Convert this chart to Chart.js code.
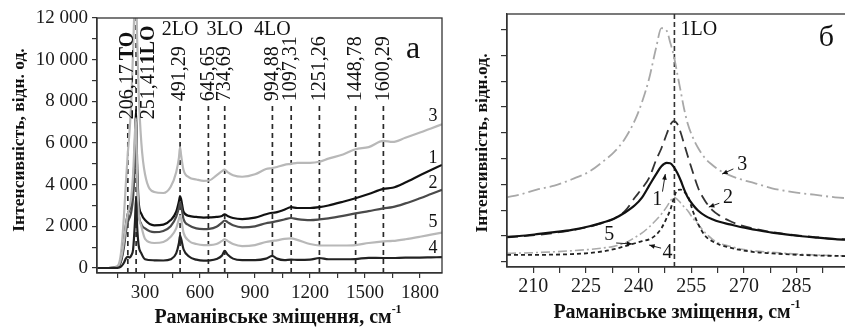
<!DOCTYPE html>
<html lang="uk">
<head>
<meta charset="UTF-8">
<title>Раманівські спектри</title>
<style>
  html, body { margin: 0; padding: 0; background: #fff; overflow: hidden; }
  #wrap { position: relative; width: 845px; height: 328px; overflow: hidden; }
  canvas { position: absolute; top: 0; }
  #spectraChart { left: 0; }
  #zoomChart { left: 460px; }
</style>
</head>
<body>
<div id="wrap">
  <canvas id="spectraChart" width="450" height="328"></canvas>
  <canvas id="zoomChart" width="395" height="328"></canvas>
</div>

<script src="https://cdn.jsdelivr.net/npm/chart.js"></script>
<script>
    // ---- panel "а": full spectra ----
    const shiftA = [40, 100, 150, 170, 185, 195, 206, 215, 225, 235, 245, 251, 257, 265, 280, 300, 350, 400, 440, 470,
        485, 491, 497, 510, 540, 580, 620, 650, 690, 720, 734, 750, 780, 830, 900, 960, 994, 1020, 1060, 1097,
        1130, 1200, 1251, 1300, 1380, 1448, 1520, 1600, 1650, 1720, 1800, 1860, 1920];
    const spec3 = [0, 0, 100, 800, 2500, 4000, 5500, 6500, 8000, 10500, 13000, 13500, 11000, 8500, 6000, 4500, 3650, 3600, 3900, 4600,
        5300, 5800, 5400, 4700, 4350, 4250, 4180, 4200, 4450, 4650, 4720, 4600, 4450, 4380, 4500, 4750, 4800, 4850, 4950, 5000,
        5050, 5050, 5100, 5250, 5450, 5700, 5800, 6100, 6050, 6250, 6500, 6700, 6900];
    const spec1 = [0, 0, 50, 400, 1200, 2000, 2600, 2800, 3100, 3800, 6000, 7600, 5000, 3200, 2600, 2300, 2050, 2080, 2300, 2700,
        3200, 3450, 3300, 2700, 2500, 2450, 2420, 2430, 2450, 2500, 2580, 2500, 2400, 2350, 2420, 2580, 2650, 2680, 2800, 2920,
        2880, 2880, 2920, 3000, 3180, 3350, 3550, 3800, 3850, 4100, 4450, 4700, 4950];
    const spec2 = [0, 0, 40, 350, 1000, 1700, 2200, 2400, 2700, 3400, 5200, 6300, 4200, 2700, 2100, 1900, 1720, 1780, 2000, 2450,
        2900, 3150, 3000, 2350, 2050, 1900, 1870, 1880, 1980, 2180, 2280, 2200, 2050, 1950, 2000, 2150, 2200, 2250, 2330, 2400,
        2350, 2300, 2330, 2380, 2500, 2620, 2730, 2860, 2920, 3100, 3350, 3550, 3750];
    const spec5 = [0, 0, 60, 500, 1300, 2000, 2600, 2900, 3400, 4500, 6500, 7200, 4500, 2700, 2000, 1400, 1200, 1250, 1500, 1900,
        2350, 2500, 2350, 1700, 1300, 1150, 1100, 1100, 1150, 1300, 1380, 1300, 1150, 1050, 1100, 1250, 1300, 1330, 1400, 1420,
        1350, 1150, 1080, 1080, 1080, 1100, 1200, 1280, 1300, 1380, 1500, 1600, 1700];
    const spec4 = [0, 0, 10, 80, 250, 450, 550, 500, 600, 900, 2200, 3400, 2000, 1100, 700, 420, 370, 360, 420, 700,
        1200, 1550, 1400, 900, 550, 400, 350, 360, 430, 600, 820, 650, 450, 380, 380, 450, 580, 450, 380, 400,
        390, 400, 480, 420, 420, 430, 490, 480, 480, 500, 500, 510, 520];

    // peak positions, labels and dashed marker heights
    const peakShifts = [206.17, 251.41, 491.29, 645.65, 734.69, 994.88, 1097.31, 1251.26, 1448.78, 1600.29];
    const peakNames = ['206,17', '251,41', '491,29', '645,65', '734,69', '994,88', '1097,31', '1251,26', '1448,78', '1600,29'];
    const peakModes = ['TO', '1LO', '', '', '', '', '', '', '', ''];
    const peakTops = [6950, 12000, 7800, 7800, 7800, 7800, 7800, 7800, 7800, 7800];
    const peakLabelX = [206.17, 322, 491.29, 645.65, 734.69, 994.88, 1097.31, 1251.26, 1448.78, 1600.29];
    const peakLabelY = [7140, 7140, 8000, 8000, 8000, 8000, 8000, 8000, 8000, 8000];
    const overtoneNames = ['2LO', '3LO', '4LO'];
    const overtoneX = [491.29, 734.69, 994.88];

    const xTicksA = [150, 300, 450, 600, 750, 900, 1050, 1200, 1350, 1500, 1650, 1800];
    const xLabelsA = [300, 600, 900, 1200, 1500, 1800];
    const yTicksA = [0, 1000, 2000, 3000, 4000, 5000, 6000, 7000, 8000, 9000, 10000, 11000, 12000];
    const yLabelsA = [0, 2000, 4000, 6000, 8000, 10000, 12000];

    // ---- panel "б": 1LO region ----
    const shiftB = [202.5, 206, 211, 216, 221, 226, 230, 233, 236, 239, 241, 243, 245, 246.5, 248, 249, 250, 251, 252, 253,
        254, 255.5, 257, 259, 261, 263, 266, 269, 273, 278, 284, 290, 296, 300.8];
    const zoom3 = [2.5, 2.6, 2.8, 2.95, 3.2, 3.5, 3.9, 4.25, 4.75, 5.5, 6.2, 7.1, 8.3, 9.05, 8.95, 8.5, 8.0, 7.3, 6.6, 5.9,
        5.35, 4.8, 4.4, 4.0, 3.75, 3.55, 3.35, 3.2, 3.05, 2.85, 2.7, 2.6, 2.5, 2.45];
    const zoom1 = [0.97, 1.0, 1.07, 1.15, 1.24, 1.38, 1.53, 1.67, 1.9, 2.2, 2.5, 2.95, 3.4, 3.7, 3.83, 3.82, 3.68, 3.45, 3.15, 2.8,
        2.5, 2.2, 1.98, 1.78, 1.65, 1.55, 1.45, 1.35, 1.25, 1.13, 1.03, 0.95, 0.88, 0.85];
    const zoom2 = [0.95, 0.98, 1.04, 1.12, 1.22, 1.36, 1.52, 1.68, 1.95, 2.5, 2.85, 3.25, 3.95, 4.4, 4.95, 5.3, 5.45, 5.35, 5.0, 4.55,
        4.1, 3.45, 2.85, 2.35, 2.0, 1.8, 1.58, 1.42, 1.28, 1.15, 1.04, 0.96, 0.89, 0.86];
    const zoom4 = [0.27, 0.27, 0.27, 0.28, 0.3, 0.34, 0.41, 0.49, 0.6, 0.72, 0.8, 0.87, 1.05, 1.3, 1.7, 2.0, 2.45, 2.78, 2.8, 2.7,
        2.55, 1.95, 1.45, 1.0, 0.8, 0.67, 0.55, 0.46, 0.38, 0.33, 0.28, 0.25, 0.23, 0.22];
    const zoom5 = [0.33, 0.34, 0.36, 0.39, 0.43, 0.48, 0.54, 0.6, 0.72, 0.95, 1.12, 1.35, 1.62, 1.85, 2.13, 2.35, 2.5, 2.42, 2.28, 2.12,
        1.98, 1.68, 1.45, 1.12, 0.88, 0.72, 0.6, 0.5, 0.42, 0.37, 0.31, 0.27, 0.24, 0.22];
    const lineShiftB = 250.2;

    const xTicksB = [210, 217.5, 225, 232.5, 240, 247.5, 255, 262.5, 270, 277.5, 285, 292.5, 300];
    const xLabelsB = [210, 225, 240, 255, 270, 285];
    const yTicksB = [0, 1, 2, 3, 4, 5, 6, 7, 8, 9];

    // curve numbers of panel б: text point, arrow start, arrow end (data units)
    const zoomNotes = [
        { t: '3', at: [269.5, 3.76], from: [267.0, 3.6], to: [263.8, 3.4] },
        { t: '2', at: [265.5, 2.48], from: [263.0, 2.27], to: [260.0, 2.12] },
        { t: '1', at: [245.3, 2.4], from: [246.8, 2.72], to: [247.6, 3.4] },
        { t: '5', at: [231.6, 1.05], from: [233.6, 0.73], to: [238.2, 0.69] },
        { t: '4', at: [248.2, 0.35], from: [246.4, 0.53], to: [243.0, 0.65] }
    ];
    const curveNotesA = [
        { t: '3', x: 1871, y: 7290 },
        { t: '1', x: 1871, y: 5290 },
        { t: '2', x: 1871, y: 4050 },
        { t: '5', x: 1871, y: 2190 },
        { t: '4', x: 1871, y: 950 }
    ];

    const SERIF = "'Liberation Serif', 'DejaVu Serif', serif";

    function pts(xs, ys) {
        return xs.map((x, i) => ({ x: x, y: ys[i] }));
    }

    // draws a row of text pieces (each with own font and y shift), optionally rotated
    function drawParts(ctx, parts, x, y, angle, align) {
        ctx.save();
        ctx.translate(x, y);
        ctx.rotate(angle);
        ctx.textBaseline = 'middle';
        ctx.textAlign = 'left';
        let total = 0;
        parts.forEach(p => { ctx.font = p[1]; total += ctx.measureText(p[0]).width; });
        let cx = align === 'center' ? -total / 2 : 0;
        parts.forEach(p => {
            ctx.font = p[1];
            ctx.fillText(p[0], cx, p[2] || 0);
            cx += ctx.measureText(p[0]).width;
        });
        ctx.restore();
    }

    function arrow(ctx, x1, y1, x2, y2) {
        const a = Math.atan2(y2 - y1, x2 - x1);
        ctx.beginPath();
        ctx.moveTo(x1, y1);
        ctx.lineTo(x2, y2);
        ctx.stroke();
        ctx.beginPath();
        ctx.moveTo(x2, y2);
        ctx.lineTo(x2 - 6 * Math.cos(a - 0.4), y2 - 6 * Math.sin(a - 0.4));
        ctx.lineTo(x2 - 6 * Math.cos(a + 0.4), y2 - 6 * Math.sin(a + 0.4));
        ctx.closePath();
        ctx.fill();
    }

    function axisTitleX(ctx, cx, cy) {
        drawParts(ctx, [
            ['Раманівське зміщення, см', 'bold 20px ' + SERIF, 0],
            ['-1', 'bold 12px ' + SERIF, -8]
        ], cx, cy, 0, 'center');
    }

    // ---- panel а decorations ----
    const spectraDeco = {
        id: 'spectraDeco',
        afterDatasetsDraw(chart) {
            const { ctx, chartArea: a, scales: { x, y } } = chart;
            ctx.save();
            ctx.strokeStyle = '#333';
            ctx.lineWidth = 1.3;
            ctx.strokeRect(a.left, a.top, a.right - a.left, a.bottom - a.top);
            ctx.fillStyle = '#111';

            peakNames.forEach((name, i) => {
                const parts = [[name, '20px ' + SERIF, 0]];
                if (peakModes[i]) parts.push([peakModes[i] === 'TO' ? '\u2009TO' : peakModes[i], 'bold 20px ' + SERIF, 0]);
                drawParts(ctx, parts, x.getPixelForValue(peakLabelX[i]), y.getPixelForValue(peakLabelY[i]), -Math.PI / 2, 'left');
            });
            overtoneNames.forEach((name, i) => {
                drawParts(ctx, [[name, '20px ' + SERIF, 0]], x.getPixelForValue(overtoneX[i]), y.getPixelForValue(11420), 0, 'center');
            });
            curveNotesA.forEach(n => {
                drawParts(ctx, [[n.t, '18px ' + SERIF, 0]], x.getPixelForValue(n.x), y.getPixelForValue(n.y), 0, 'center');
            });
            drawParts(ctx, [['а', '32px ' + SERIF, 0]], x.getPixelForValue(1762), y.getPixelForValue(10500), 0, 'center');

            drawParts(ctx, [['Інтенсивність, відн. од.', 'bold 17.5px ' + SERIF, 0]], 19, 140, -Math.PI / 2, 'center');
            axisTitleX(ctx, 278, 318);
            ctx.restore();
        }
    };

    // ---- panel б decorations ----
    const zoomDeco = {
        id: 'zoomDeco',
        afterDatasetsDraw(chart) {
            const { ctx, chartArea: a, scales: { x, y } } = chart;
            ctx.save();
            ctx.strokeStyle = '#333';
            ctx.lineWidth = 1.3;
            ctx.strokeRect(a.left, a.top, a.right - a.left, a.bottom - a.top);
            ctx.fillStyle = '#111';
            ctx.strokeStyle = '#222';
            ctx.lineWidth = 1;
            zoomNotes.forEach(n => {
                drawParts(ctx, [[n.t, '20px ' + SERIF, 0]], x.getPixelForValue(n.at[0]), y.getPixelForValue(n.at[1]), 0, 'center');
                arrow(ctx, x.getPixelForValue(n.from[0]), y.getPixelForValue(n.from[1]),
                    x.getPixelForValue(n.to[0]), y.getPixelForValue(n.to[1]));
            });
            drawParts(ctx, [['1LO', '20px ' + SERIF, 0]], x.getPixelForValue(lineShiftB) + 6, y.getPixelForValue(9.0), 0, 'left');
            drawParts(ctx, [['б', '30px ' + SERIF, 0]], x.getPixelForValue(293.5), y.getPixelForValue(8.65), 0, 'center');

            drawParts(ctx, [['Інтенсивність, відн.од.', 'bold 17.5px ' + SERIF, 0]], 22, 143, -Math.PI / 2, 'center');
            axisTitleX(ctx, 217, 313);
            ctx.restore();
        }
    };

    function curve(label, xs, ys, color, width, dash, order) {
        return {
            label: label,
            data: pts(xs, ys),
            borderColor: color,
            borderWidth: width,
            borderDash: dash,
            pointRadius: 0,
            fill: false,
            cubicInterpolationMode: 'monotone',
            order: order
        };
    }

    function axisStyle(ticksList, labelList, fmt, size, pad, tickLen) {
        return {
            type: 'linear',
            afterBuildTicks: s => { s.ticks = ticksList.map(v => ({ value: v })); },
            grid: { drawOnChartArea: false, drawTicks: true, tickLength: tickLen, color: '#333', lineWidth: 1.2 },
            border: { display: true, color: '#333', width: 1.3 },
            ticks: {
                autoSkip: false,
                maxRotation: 0,
                padding: pad,
                color: '#1a1a1a',
                font: { family: SERIF, size: size },
                callback: v => labelList.includes(v) ? fmt(v) : ''
            }
        };
    }

    const peakLines = peakShifts.map((s, i) => ({
        data: [{ x: s, y: -240 }, { x: s, y: peakTops[i] }],
        borderColor: '#2a2a2a',
        borderWidth: 1.7,
        borderDash: [5, 4],
        pointRadius: 0,
        order: 10
    }));

    const spectraChart = new Chart(document.getElementById('spectraChart'), {
        type: 'line',
        data: {
            datasets: [
                curve('4', shiftA, spec4, '#222', 2.2, [], 1),
                curve('5', shiftA, spec5, '#b8b8b8', 2.2, [], 2),
                curve('2', shiftA, spec2, '#4a4a4a', 2.2, [], 3),
                curve('1', shiftA, spec1, '#111', 2.2, [], 4),
                curve('3', shiftA, spec3, '#b8b8b8', 2.2, [], 5)
            ].concat(peakLines)
        },
        options: {
            responsive: false,
            animation: false,
            events: [],
            layout: { padding: { left: 0, right: 8, top: 18, bottom: 0 } },
            plugins: { legend: { display: false }, tooltip: { enabled: false } },
            scales: {
                x: Object.assign(axisStyle(xTicksA, xLabelsA, v => String(v), 19, 4, 5), {
                    min: 38, max: 1920,
                    afterFit: s => { s.height = 55; }
                }),
                y: Object.assign(axisStyle(yTicksA, yLabelsA, v => v === 0 ? '0' : (v / 1000) + ' 000', 19, 4, 5), {
                    min: -240, max: 12000,
                    afterFit: s => { s.width = 97; }
                })
            }
        },
        plugins: [spectraDeco]
    });

    const zoomChart = new Chart(document.getElementById('zoomChart'), {
        type: 'line',
        data: {
            datasets: [
                curve('1', shiftB, zoom1, '#111', 2.2, [], 1),
                curve('2', shiftB, zoom2, '#333', 1.8, [11, 6], 2),
                curve('4', shiftB, zoom4, '#222', 1.8, [4, 3], 3),
                curve('5', shiftB, zoom5, '#aaa', 1.6, [9, 3, 2, 3], 4),
                curve('3', shiftB, zoom3, '#a8a8a8', 1.8, [12, 4, 2, 4], 5),
                {
                    data: [{ x: lineShiftB, y: -0.2 }, { x: lineShiftB, y: 9.6 }],
                    borderColor: '#333',
                    borderWidth: 1.6,
                    borderDash: [5, 3],
                    pointRadius: 0,
                    order: 10
                }
            ]
        },
        options: {
            responsive: false,
            animation: false,
            events: [],
            layout: { padding: { left: 0, right: 3, top: 14, bottom: 0 } },
            plugins: { legend: { display: false }, tooltip: { enabled: false } },
            scales: {
                x: Object.assign(axisStyle(xTicksB, xLabelsB, v => String(v), 20, 2, 6), {
                    min: 202.5, max: 300.8,
                    afterFit: s => { s.height = 61; }
                }),
                y: Object.assign(axisStyle(yTicksB, [], v => '', 12, 2, 6), {
                    min: -0.2, max: 9.6,
                    afterFit: s => { s.width = 47; }
                })
            }
        },
        plugins: [zoomDeco]
    });
</script>
</body>
</html>
